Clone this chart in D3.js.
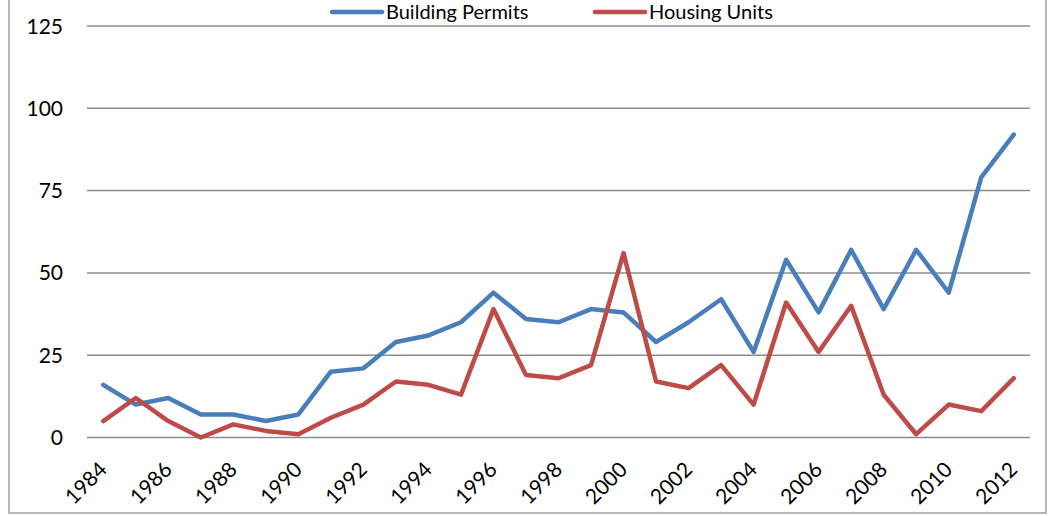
<!DOCTYPE html>
<html>
<head>
<meta charset="utf-8">
<script src="https://cdnjs.cloudflare.com/ajax/libs/d3/7.8.5/d3.min.js"></script>
<style>
	body { margin: 0; background: #fff; }
	svg { display: block; font-family: Lato, "Liberation Sans", sans-serif; }
	.grid line { stroke: #8c8c8c; stroke-width: 1.5; }
	.plot { fill: none; stroke-width: 4.5; stroke-linejoin: round; stroke-linecap: round; }
	.permits { stroke: #4a7ebb; }
	.units { stroke: #be4b48; }
</style>
</head>
<body>
<div id="chart"></div>
<script>
var years = [1984, 1985, 1986, 1987, 1988, 1989, 1990, 1991, 1992, 1993, 1994, 1995, 1996, 1997, 1998,
	1999, 2000, 2001, 2002, 2003, 2004, 2005, 2006, 2007, 2008, 2009, 2010, 2011, 2012];
var permits = [16, 10, 12, 7, 7, 5, 7, 20, 21, 29, 31, 35, 44, 36, 35,
	39, 38, 29, 35, 42, 26, 54, 38, 57, 39, 57, 44, 79, 92];
var units = [5, 12, 5, 0, 4, 2, 1, 6, 10, 17, 16, 13, 39, 19, 18,
	22, 56, 17, 15, 22, 10, 41, 26, 40, 13, 1, 10, 8, 18];
var yTicks = [0, 25, 50, 75, 100, 125];
var xLabels = years.filter(function(d, i) { return i % 2 == 0; });
var seriesNames = ['Building Permits', 'Housing Units'];

var width = 1048, height = 516;

var svg = d3.select('#chart').append('svg')
	.attr('width', width)
	.attr('height', height);

// chart frame (top edge is cut off in the original)
svg.append('rect')
	.attr('x', 9).attr('y', -10)
	.attr('width', 1037).attr('height', 523)
	.attr('fill', 'none')
	.attr('stroke', '#a0a0a0')
	.attr('stroke-width', 1.5);

var x = d3.scalePoint().domain(years).range([87, 1030]).padding(0.5);
var y = d3.scaleLinear().domain([0, 125]).range([437.5, 26]);

var grid = svg.append('g').attr('class', 'grid');
grid.selectAll('line').data(yTicks).enter().append('line')
	.attr('x1', 87).attr('x2', 1030)
	.attr('y1', function(d) { return y(d); })
	.attr('y2', function(d) { return y(d); });

grid.selectAll('text').data(yTicks).enter().append('text')
	.attr('x', 63)
	.attr('y', function(d) { return y(d) + 7.5; })
	.attr('text-anchor', 'end')
	.style('font-size', '21px')
	.text(function(d) { return d; });

svg.append('g').selectAll('text').data(xLabels).enter().append('text')
	.attr('text-anchor', 'end')
	.attr('transform', function(d) { return 'translate(' + (x(d) + 5) + ',471) rotate(-45)'; })
	.style('font-size', '21px')
	.text(function(d) { return d; });

var line = d3.line()
	.x(function(d, i) { return x(years[i]); })
	.y(function(d) { return y(d); });

svg.append('path').datum(permits).attr('class', 'permits plot').attr('d', line);
svg.append('path').datum(units).attr('class', 'units plot').attr('d', line);

// legend
var legendX = [332, 595];
var legend = svg.selectAll('.graph-legend').data(seriesNames).enter().append('g')
	.attr('class', 'graph-legend')
	.attr('transform', function(d, i) { return 'translate(' + legendX[i] + ',12)'; });

legend.append('line')
	.attr('class', function(d, i) { return (i == 0 ? 'permits' : 'units') + ' plot'; })
	.attr('x1', 0).attr('x2', 50)
	.attr('y1', 0).attr('y2', 0);

legend.append('text')
	.attr('x', 54)
	.attr('y', 7)
	.style('font-size', '20px')
	.text(function(d) { return d; });
</script>
</body>
</html>
